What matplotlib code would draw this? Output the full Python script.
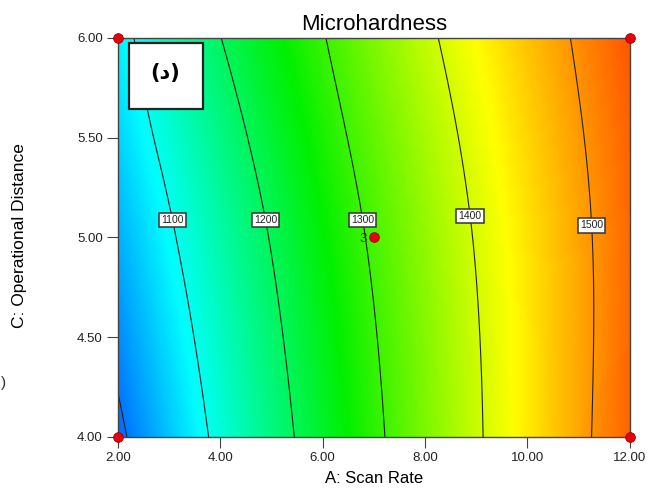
import matplotlib
matplotlib.use("Agg")
import matplotlib.pyplot as plt
import matplotlib.tri as mtri
import numpy as np
from matplotlib.colors import LinearSegmentedColormap
from matplotlib.patches import Rectangle

plt.rcParams['font.family'] = ['Liberation Sans', 'DejaVu Sans']

# A: Scan Rate (columns), C: Operational Distance (rows)
scan_rate = [2.0, 4.0, 6.0, 8.0, 10.0, 12.0]
distance = [4.0, 5.0, 6.0]
# microhardness at the grid nodes
hardness = [
    [989, 1114, 1232, 1342, 1442, 1534],    # C = 4.00
    [1037, 1148, 1257, 1357, 1447, 1530],   # C = 5.00
    [1081, 1199, 1297, 1389, 1469, 1542],   # C = 6.00
]
levels = [1000, 1100, 1200, 1300, 1400, 1500]
label_spots = [(3.15, 5.09), (4.93, 5.09), (6.82, 5.09), (8.89, 5.11), (11.24, 5.06)]

# design points
design_x = [2.0, 2.0, 12.0, 12.0, 7.0]
design_y = [4.0, 6.0, 4.0, 6.0, 5.0]

X, Y = np.meshgrid(scan_rate, distance)
Z = np.array(hardness, dtype=float)

tri = mtri.Triangulation(X.ravel(), Y.ravel())
interp = mtri.CubicTriInterpolator(tri, Z.ravel(), kind='min_E')
refiner = mtri.UniformTriRefiner(tri)
tri_f, z_f = refiner.refine_field(Z.ravel(), triinterpolator=interp, subdiv=5)

cmap = LinearSegmentedColormap.from_list(
    'de', ['#0000ff', '#00ffff', '#00f000', '#ffff00', '#ff0000'])

fig = plt.figure(figsize=(6.65, 4.98), dpi=100)
ax = fig.add_axes([0.1774, 0.1225, 0.7696, 0.8012])

ax.tripcolor(tri_f, z_f, shading='gouraud', cmap=cmap, vmin=920, vmax=1600)
cs = ax.tricontour(tri_f, z_f, levels=levels, colors='#222222', linewidths=0.8)
lbls = ax.clabel(cs, fmt='%d', fontsize=7.5, inline=False, manual=label_spots)
for t in lbls:
    t.set_rotation(0)
    t.set_bbox(dict(boxstyle='square,pad=0.2', fc='white', ec='#333333', lw=1.1))

ax.plot(design_x, design_y, 'o', ms=7, color='#e8000b', mec='#a00000',
        mew=0.6, clip_on=False, zorder=5)
ax.text(6.86, 4.99, '3', ha='right', va='center', fontsize=9.5,
        color='#1d3d1d', zorder=6)

ax.set_xlim(2, 12)
ax.set_ylim(4, 6)
ax.set_xticks(scan_rate)
ax.set_xticklabels(['%.2f' % v for v in scan_rate])
ax.set_yticks([4.0, 4.5, 5.0, 5.5, 6.0])
ax.set_yticklabels(['4.00', '4.50', '5.00', '5.50', '6.00'])
ax.tick_params(direction='out', length=8, width=0.8, pad=3, labelsize=9.5,
               color='#444444', labelcolor='#222222')
for s in ax.spines.values():
    s.set_color('#444444')
    s.set_linewidth(1.0)

ax.set_title('Microhardness', fontsize=16, pad=6)
ax.set_xlabel('A: Scan Rate', fontsize=12, labelpad=5)
ax.set_ylabel('C: Operational Distance', fontsize=12.5)
ax.yaxis.set_label_coords(-0.178, 0.506)

ax.add_patch(Rectangle((0.0215, 0.822), 0.1445, 0.1654, transform=ax.transAxes,
                       fc='white', ec='#222222', lw=1.6, zorder=7))
ax.text(0.0918, 0.912, '(د)', transform=ax.transAxes, ha='center', va='center',
        fontsize=15, fontweight='bold', family=['DejaVu Sans'], zorder=8)

# small mark at the left edge of the scanned figure
fig.text(0.001, 0.231, ')', fontsize=11, ha='left', va='center', color='#333333')

fig.savefig('out.png', dpi=100)
